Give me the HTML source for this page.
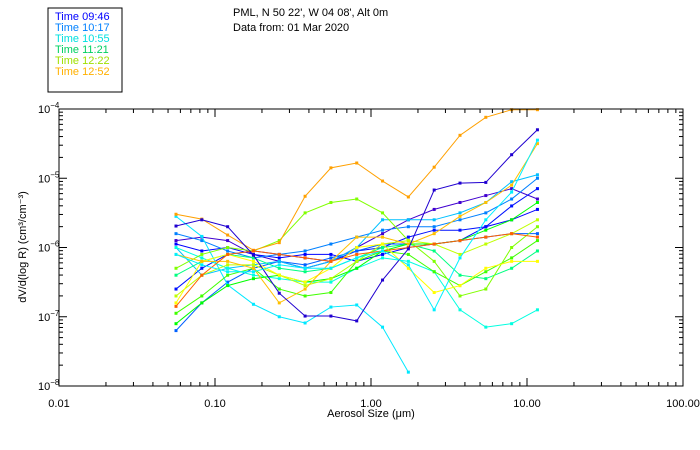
<!DOCTYPE html>
<html><head><meta charset="utf-8"><style>
body{margin:0;background:#fff;}
svg{display:block;font-family:"Liberation Sans",sans-serif;}
</style></head><body>
<svg id="chart" width="700" height="450">
<rect x="48" y="8" width="74" height="84" fill="none" stroke="#000"/>
<text x="233" y="16" font-size="11">PML, N 50 22', W 04 08', Alt 0m</text>
<text x="233" y="31" font-size="11">Data from: 01 Mar 2020</text>
<text x="371" y="417" font-size="11" text-anchor="middle">Aerosol Size (μm)</text>
<text transform="translate(26,247) rotate(-90)" font-size="11" text-anchor="middle">dV/d(log R) (cm³/cm⁻³)</text>
<g id="marks"></g>
</svg>
<script>
const legendLabels=["Time 09:46","Time 10:17","Time 10:55","Time 11:21","Time 12:22","Time 12:52"];
const legendColors=["#0000ff","#0080ff","#00e0e0","#00d060","#a0e000","#ffb000"];
const sizeLogStart=-1.25, sizeLogStep=0.1655;
const xTicks=["0.01","0.10","1.00","10.00","100.00"];
const yTicks=[-4,-5,-6,-7,-8];
const seriesColors=["#4000d0","#0000ff","#0010ff","#0060ff","#0080ff","#00c0ff","#00e8ff","#00ffe0","#00ff80","#00ff00","#40ff00","#80ff00","#c0ff00","#ffff00","#ffc000","#ffa000","#ff6000","#2000d0","#00f0ff"];
const s0=[-5.9,-5.85,-5.9,-6.1,-6.2,-6.3,-6.2,-6.0,-5.8,-5.6,-5.45,-5.35,-5.25,-5.15,-5.3];
const s1=[-5.95,-6.05,-6.0,-6.1,-6.15,-6.1,-6.1,-6.2,-6.1,-6.0,-5.95,-5.9,-5.7,-5.6,-5.45];
const s2=[-6.6,-6.3,-6.1,-6.05,-6.1,-6.15,-6.2,-6.05,-6.0,-5.85,-5.75,-5.75,-5.7,-5.4,-5.15];
const s3=[-7.2,-6.8,-6.5,-6.3,-6.2,-6.25,-6.15,-6.05,-5.95,-5.95,-5.95,-5.9,-5.85,-5.8,-5.8];
const s4=[-5.8,-5.9,-6.05,-6.15,-6.1,-6.05,-5.95,-5.85,-5.75,-5.7,-5.7,-5.6,-5.5,-5.3,-5.0];
const s5=[-6.0,-6.4,-6.3,-6.25,-6.2,-6.3,-6.2,-6.0,-5.6,-5.6,-5.6,-5.5,-5.35,-5.05,-4.95];
const s6=[-5.55,-5.84,-6.54,-6.82,-7.0,-7.09,-6.86,-6.83,-7.15,-7.8,null,null,null,null,null];
const s7=[-6.0,-6.15,-6.3,-6.4,-6.45,-6.5,-6.5,-6.3,-6.15,-6.2,-6.35,-6.9,-7.15,-7.1,-6.9];
const s8=[-6.4,-6.2,-6.1,-6.15,-6.3,-6.35,-6.3,-6.15,-6.0,-5.95,-6.05,-6.4,-6.45,-6.3,-6.05];
const s9=[-7.1,-6.8,-6.55,-6.45,-6.4,-6.5,-6.45,-6.3,-6.05,-5.95,-5.95,-5.9,-5.75,-5.6,-5.35];
const s10=[-6.95,-6.7,-6.4,-6.3,-6.6,-6.7,-6.65,-6.2,-6.05,-6.1,-6.35,-6.55,-6.35,-6.15,-5.9];
const s11=[-6.3,-6.1,-6.0,-6.05,-5.9,-5.5,-5.35,-5.3,-5.5,-5.9,-6.2,-6.7,-6.6,-6.0,-5.7];
const s12=[-6.7,-6.4,-6.25,-6.25,-6.4,-6.55,-6.45,-6.2,-5.95,-5.9,-5.95,-6.1,-5.95,-5.8,-5.6];
const s13=[-6.8,-6.2,-6.1,-6.2,-6.4,-6.5,-6.3,-6.0,-5.95,-6.3,-6.65,-6.55,-6.3,-6.2,-6.2];
const s14=[-6.1,-6.2,-6.2,-6.3,-6.8,-6.6,-6.2,-5.85,-5.85,-5.95,-5.8,-5.55,-5.35,-5.1,-4.5];
const s15=[-5.52,-5.59,-5.82,-6.04,-5.93,-5.26,-4.85,-4.78,-5.04,-5.27,-4.84,-4.38,-4.12,-4.01,-4.01];
const s16=[-6.85,-6.4,-6.1,-6.05,-6.1,-6.15,-6.2,-6.1,-6.05,-6.0,-5.95,-5.9,-5.85,-5.8,-5.85];
const s17=[-5.69,-5.6,-5.7,-6.11,-6.66,-6.99,-6.99,-7.06,-6.47,-6.02,-5.17,-5.07,-5.06,-4.66,-4.3];
const s18=[-6.1,-6.25,-6.35,-6.35,-6.25,-6.3,-6.3,-6.15,-6.05,-6.25,-6.9,-6.15,-5.6,-5.2,-4.45];
const seriesValues=[s0,s1,s2,s3,s4,s5,s6,s7,s8,s9,s10,s11,s12,s13,s14,s15,s16,s17,s18];

const L=59,R=683,T=109,B=386;
const xs=lg=>L+(lg+2)/4*(R-L);
const ys=lg=>T+(-4-lg)/4*(B-T);
const NS="http://www.w3.org/2000/svg";
const svg=document.getElementById('chart');
const g=document.getElementById('marks');
function mk(tag,attrs,parent){const e=document.createElementNS(NS,tag);for(const k in attrs)e.setAttribute(k,attrs[k]);(parent||g).appendChild(e);return e;}

// legend
legendLabels.forEach((t,i)=>{
  const e=mk('text',{x:55,y:20+i*11,'font-size':11,fill:legendColors[i]},svg);
  
  
  e.textContent=t;
});

// series
seriesValues.forEach((vals,si)=>{
  const grp=mk('g',{});
  
  
  let pts=[];
  vals.forEach((v,i)=>{ if(v!==null) pts.push([xs(sizeLogStart+i*sizeLogStep),ys(v)]); });
  const pl=mk('polyline',{points:pts.map(p=>p.join(',')).join(' '),fill:'none',stroke:seriesColors[si],'stroke-width':1},grp);
  
  
  pts.forEach(p=>{
    const r=mk('rect',{x:p[0]-1.5,y:p[1]-1.5,width:3,height:3,fill:seriesColors[si]},grp);
    
    
  });
});

// axes frame
const fr=mk('rect',{x:L,y:T,width:R-L,height:B-T,fill:'none',stroke:'#000'},svg);


// x ticks
for(let d=0;d<4;d++){
  for(let m=1;m<10;m++){
    const x=xs(d-2+Math.log10(m));
    const len=m===1?8:4;
    mk('line',{x1:x,y1:B,x2:x,y2:B-len,stroke:'#000'},svg);
    mk('line',{x1:x,y1:T,x2:x,y2:T+len,stroke:'#000'},svg);
  }
}
xTicks.forEach((t,i)=>{
  const e=mk('text',{x:xs(i-2),y:407,'font-size':11,'text-anchor':'middle'},svg);
  
  
  e.textContent=t;
});
// y ticks
for(let d=0;d<4;d++){
  for(let m=1;m<10;m++){
    const y=ys(-8+d+Math.log10(m));
    const len=m===1?8:4;
    mk('line',{x1:L,y1:y,x2:L+len,y2:y,stroke:'#000'},svg);
    mk('line',{x1:R,y1:y,x2:R-len,y2:y,stroke:'#000'},svg);
  }
}
yTicks.forEach(v=>{
  const e=mk('text',{x:38,y:ys(v)+4,'font-size':11},svg);
  
  
  e.textContent='10';
  const s=mk('tspan',{dy:-5,'font-size':8},e);
  s.textContent=String(v).replace('-','−');
});
</script>
</body></html>
